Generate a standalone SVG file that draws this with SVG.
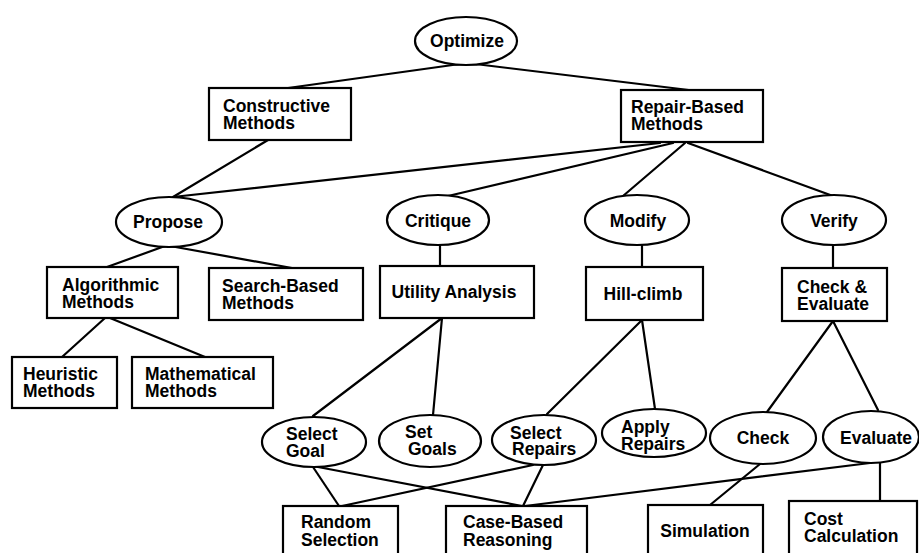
<svg xmlns="http://www.w3.org/2000/svg" width="919" height="553" viewBox="0 0 919 553">
<style>
.n{fill:#fff;stroke:#000;stroke-width:2.2}
.t{font-family:"Liberation Sans",Arial,Helvetica,sans-serif;font-weight:bold;font-size:17.5px;fill:#000}
.c{text-anchor:middle}
.e line{stroke:#000;stroke-width:2.2;stroke-linecap:round}
</style>
<rect width="919" height="553" fill="#fff"/>
<g class="e" id="connectors">
<line x1="467" y1="63" x2="288" y2="88"/>
<line x1="467" y1="63" x2="697" y2="91"/>
<line x1="268" y1="140" x2="173" y2="197"/>
<line x1="660" y1="143" x2="173" y2="197"/>
<line x1="673" y1="143" x2="448" y2="196"/>
<line x1="685" y1="143" x2="623" y2="196"/>
<line x1="688" y1="143" x2="833" y2="196"/>
<line x1="165" y1="246" x2="107" y2="267"/>
<line x1="170" y1="246" x2="292" y2="268"/>
<line x1="440" y1="245" x2="440" y2="266"/>
<line x1="642" y1="245" x2="642" y2="267"/>
<line x1="833" y1="245" x2="833" y2="268"/>
<line x1="105" y1="318" x2="62" y2="357"/>
<line x1="110" y1="318" x2="205" y2="357"/>
<line x1="442" y1="318" x2="313" y2="416"/>
<line x1="442" y1="318" x2="433" y2="415"/>
<line x1="642" y1="320" x2="547" y2="414"/>
<line x1="642" y1="320" x2="655" y2="409"/>
<line x1="833" y1="321" x2="767" y2="412"/>
<line x1="833" y1="321" x2="878" y2="410"/>
<line x1="313" y1="467" x2="339" y2="506"/>
<line x1="318" y1="467" x2="522" y2="506"/>
<line x1="533" y1="465" x2="342" y2="506"/>
<line x1="543" y1="465" x2="523" y2="506"/>
<line x1="870" y1="463" x2="525" y2="506"/>
<line x1="760" y1="464" x2="710" y2="505"/>
<line x1="880" y1="463" x2="880" y2="501"/>
</g>
<g id="optimize"><ellipse class="n" cx="466" cy="41" rx="51" ry="24"/><text class="t c" x="467" y="47">Optimize</text></g>
<g id="constructive"><rect class="n" x="209" y="88" width="142" height="52"/><text class="t" x="223" y="112">Constructive<tspan x="223" dy="17">Methods</tspan></text></g>
<g id="repair-based"><rect class="n" x="621" y="90" width="142" height="52"/><text class="t" x="631" y="113">Repair-Based<tspan x="631" dy="17">Methods</tspan></text></g>
<g id="propose"><ellipse class="n" cx="169" cy="222" rx="53" ry="25"/><text class="t c" x="168" y="228">Propose</text></g>
<g id="critique"><ellipse class="n" cx="438" cy="220" rx="51" ry="25"/><text class="t c" x="438" y="227">Critique</text></g>
<g id="modify"><ellipse class="n" cx="637" cy="220" rx="52" ry="25"/><text class="t c" x="638" y="227">Modify</text></g>
<g id="verify"><ellipse class="n" cx="834" cy="220" rx="52" ry="25"/><text class="t c" x="834" y="227">Verify</text></g>
<g id="algorithmic"><rect class="n" x="47" y="267" width="131" height="51"/><text class="t" x="62" y="291">Algorithmic<tspan x="62" dy="17">Methods</tspan></text></g>
<g id="search-based"><rect class="n" x="209" y="268" width="154" height="52"/><text class="t" x="222" y="292">Search-Based<tspan x="222" dy="17">Methods</tspan></text></g>
<g id="utility"><rect class="n" x="380" y="266" width="154" height="52"/><text class="t c" x="454" y="298">Utility Analysis</text></g>
<g id="hill-climb"><rect class="n" x="586" y="267" width="117" height="53"/><text class="t c" x="643" y="300">Hill-climb</text></g>
<g id="check-evaluate"><rect class="n" x="782" y="268" width="105" height="53"/><text class="t" x="797" y="293">Check &amp;<tspan x="797" dy="17">Evaluate</tspan></text></g>
<g id="heuristic"><rect class="n" x="12" y="357" width="105" height="51"/><text class="t" x="23" y="380">Heuristic<tspan x="23" dy="17">Methods</tspan></text></g>
<g id="mathematical"><rect class="n" x="132" y="357" width="141" height="51"/><text class="t" x="145" y="380">Mathematical<tspan x="145" dy="17">Methods</tspan></text></g>
<g id="select-goal"><ellipse class="n" cx="314" cy="442" rx="52" ry="25"/><text class="t" x="286" y="440">Select<tspan x="286" dy="17">Goal</tspan></text></g>
<g id="set-goals"><ellipse class="n" cx="430" cy="441" rx="51" ry="26"/><text class="t" x="405" y="438">Set<tspan x="408" dy="17">Goals</tspan></text></g>
<g id="select-repairs"><ellipse class="n" cx="544" cy="440" rx="52" ry="25"/><text class="t" x="510" y="439">Select<tspan x="512" dy="16">Repairs</tspan></text></g>
<g id="apply-repairs"><ellipse class="n" cx="654" cy="433" rx="52" ry="24"/><text class="t" x="621" y="433">Apply<tspan x="621" dy="17">Repairs</tspan></text></g>
<g id="check"><ellipse class="n" cx="763" cy="438" rx="53" ry="26"/><text class="t c" x="763" y="444">Check</text></g>
<g id="evaluate"><ellipse class="n" cx="871" cy="437" rx="48" ry="26"/><text class="t c" x="876" y="444">Evaluate</text></g>
<g id="random"><rect class="n" x="283" y="506" width="115" height="62"/><text class="t" x="301" y="528">Random<tspan x="301" dy="18">Selection</tspan></text></g>
<g id="case-based"><rect class="n" x="446" y="506" width="141" height="62"/><text class="t" x="463" y="528">Case-Based<tspan x="463" dy="18">Reasoning</tspan></text></g>
<g id="simulation"><rect class="n" x="648" y="505" width="115" height="62"/><text class="t c" x="705" y="537">Simulation</text></g>
<g id="cost"><rect class="n" x="789" y="501" width="128" height="66"/><text class="t" x="804" y="525">Cost<tspan x="804" dy="17">Calculation</tspan></text></g>
</svg>
